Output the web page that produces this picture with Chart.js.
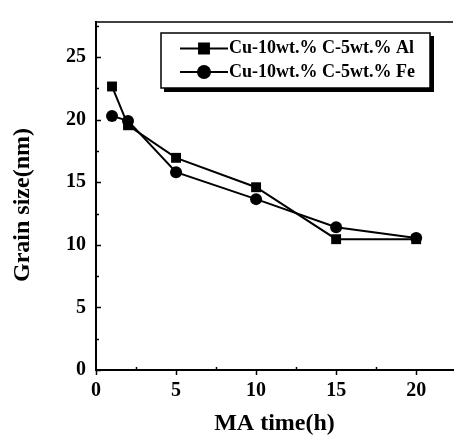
<!DOCTYPE html>
<html>
<head>
<meta charset="utf-8">
<script src="https://cdn.jsdelivr.net/npm/chart.js@4.4.0/dist/chart.umd.min.js"></script>
<style>
  html, body { margin: 0; padding: 0; background: #fff; overflow: hidden; }
  #wrap { position: absolute; left: 0; top: 0; width: 460px; height: 436px; }
</style>
</head>
<body>
<div id="wrap"><canvas id="grainChart" width="460" height="436"></canvas></div>
<script>
const ctx = document.getElementById('grainChart');

// milling time (h) and measured grain size (nm)
const maTime = [1, 2, 5, 10, 15, 20];
const grainAl = [22.65, 19.55, 16.95, 14.6, 10.45, 10.45];
const grainFe = [20.3, 19.9, 15.8, 13.65, 11.4, 10.55];
const seriesNames = ['Cu-10wt.% C-5wt.% Al', 'Cu-10wt.% C-5wt.% Fe'];
const xTicks = [0, 5, 10, 15, 20];
const yTicks = [0, 5, 10, 15, 20, 25];
const yTitle = 'Grain size(nm)';

const serif = "'Liberation Serif', 'Times New Roman', serif";

const toPoints = vals => maTime.map((t, i) => ({ x: t, y: vals[i] }));

// tick marks, minor ticks, top frame line, y title and the boxed legend
const framePlugin = {
  id: 'frame',
  afterDraw(chart) {
    const c = chart.ctx;
    const { left, right, top, bottom } = chart.chartArea;
    const xs = chart.scales.x, ys = chart.scales.y;
    c.save();
    c.strokeStyle = '#000';
    c.lineWidth = 1.5;
    c.beginPath();
    c.moveTo(left, top);
    c.lineTo(right, top);
    c.stroke();

    c.beginPath();
    for (let v = 0; v <= 27.5; v += 2.5) {
      const y = Math.round(ys.getPixelForValue(v)) + 0.5;
      const len = v % 5 === 0 ? 5 : 3;
      c.moveTo(left, y);
      c.lineTo(left + len, y);
    }
    for (let v = 0; v <= 22; v += 2.5) {
      const x = Math.round(xs.getPixelForValue(v)) + 0.5;
      if (v % 5 === 0) {
        c.moveTo(x, bottom);
        c.lineTo(x, bottom + 5);
      } else {
        c.moveTo(x, bottom);
        c.lineTo(x, bottom - 3);
      }
    }
    c.stroke();

    // rotated y-axis title, sitting a little below the plot centre
    c.save();
    c.translate(23, 205);
    c.rotate(-Math.PI / 2);
    c.fillStyle = '#000';
    c.font = 'bold 24px ' + serif;
    c.textAlign = 'center';
    c.textBaseline = 'middle';
    c.fillText(yTitle, 0, 0);
    c.restore();

    // legend box with heavy drop shadow
    const bx = 161, by = 33, bw = 269, bh = 55;
    c.fillStyle = '#000';
    c.fillRect(bx + bw, by + 3, 4, bh + 1);
    c.fillRect(bx + 3, by + bh, bw + 1, 4);
    c.fillStyle = '#fff';
    c.fillRect(bx, by, bw, bh);
    c.lineWidth = 1.5;
    c.strokeRect(bx, by, bw, bh);

    chart.data.datasets.forEach((ds, i) => {
      const ry = 48.5 + i * 23.5;
      c.strokeStyle = '#000';
      c.lineWidth = 2;
      c.beginPath();
      c.moveTo(180, ry);
      c.lineTo(228, ry);
      c.stroke();
      c.fillStyle = '#000';
      Chart.helpers.drawPoint(c, {
        pointStyle: ds.pointStyle,
        radius: ds.pointRadius,
        borderWidth: 1,
        rotation: 0
      }, 204, ry);
      c.fill();
      c.font = 'bold 18px ' + serif;
      c.textBaseline = 'middle';
      c.textAlign = 'left';
      c.fillText(ds.label, 229, ry);
    });
    c.restore();
  }
};

new Chart(ctx, {
  type: 'line',
  data: {
    datasets: [
      {
        label: seriesNames[0],
        data: toPoints(grainAl),
        borderColor: '#000',
        backgroundColor: '#000',
        borderWidth: 2,
        pointStyle: 'rect',
        pointRadius: 7,
        pointBorderWidth: 0,
        tension: 0
      },
      {
        label: seriesNames[1],
        data: toPoints(grainFe),
        borderColor: '#000',
        backgroundColor: '#000',
        borderWidth: 2,
        pointStyle: 'circle',
        pointRadius: 6,
        pointBorderWidth: 0,
        tension: 0
      }
    ]
  },
  options: {
    responsive: false,
    animation: false,
    layout: { padding: { left: 0, top: 12, right: 3, bottom: 0 } },
    plugins: { legend: { display: false }, tooltip: { enabled: false } },
    scales: {
      x: {
        type: 'linear',
        min: 0,
        max: 22.3,
        afterBuildTicks: s => { s.ticks = xTicks.map(v => ({ value: v })); },
        afterFit: s => { s.height = 66; },
        grid: { display: false, drawTicks: false },
        border: { display: true, color: '#000', width: 2 },
        ticks: { color: '#000', padding: 9, font: { family: serif, size: 20, weight: 'bold' } },
        title: {
          display: true,
          text: 'MA time(h)',
          color: '#000',
          padding: { top: 0, bottom: 0 },
          font: { family: serif, size: 24, weight: 'bold', lineHeight: 1 }
        }
      },
      y: {
        type: 'linear',
        min: 0,
        max: 27.8,
        afterBuildTicks: s => { s.ticks = yTicks.map(v => ({ value: v })); },
        afterFit: s => { s.width = 96; },
        grid: { display: false, drawTicks: false },
        border: { display: true, color: '#000', width: 2 },
        ticks: { color: '#000', padding: 10, font: { family: serif, size: 20, weight: 'bold' } }
      }
    }
  },
  plugins: [framePlugin]
});
</script>
</body>
</html>
